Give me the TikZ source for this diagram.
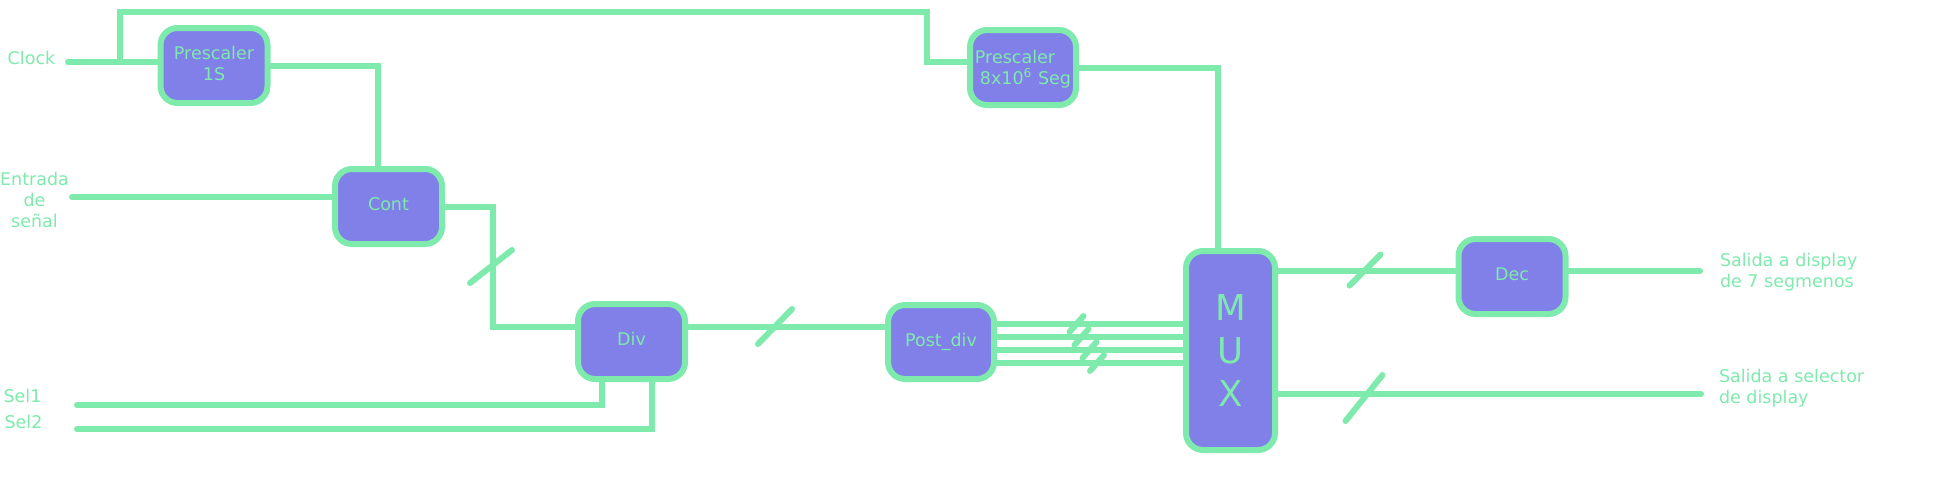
\documentclass[tikz,border=0pt]{standalone}
\usepackage{fontspec}
\setmainfont{DejaVu Sans}
\usetikzlibrary{calc}
\definecolor{wire}{RGB}{126,234,172}
\definecolor{blockfill}{RGB}{128,128,232}

\begin{document}
\begin{tikzpicture}[x=0.5pt,y=-0.5pt,line width=3pt,color=wire,line cap=round,
  block/.style={draw=wire,fill=blockfill,rounded corners=8.5pt,
    minimum width=53.5pt,minimum height=37.5pt,inner sep=0pt,text depth=2.5pt,
    text=wire,align=center,font=\fontsize{8.75}{10.5}\selectfont},
  lbl/.style={text=wire,inner sep=0pt,font=\fontsize{8.75}{10.5}\selectfont}]
  \newcommand{\busmark}[3]{\draw ($(#1)+(-#2,#3)$) -- ($(#1)+(#2,-#3)$);}
  \useasboundingbox (0,0) rectangle (1959,500);
  % blocks
  \node[block] (pre1) at (214,65.5) {Prescaler\\1S};
  \node[block] (cont) at (388.5,206.5) {Cont};
  \node[block] (div) at (631.5,341.5) {Div};
  \node[block,minimum width=53pt,minimum height=37pt] (post) at (941,342) {Post\_div};
  \node[block,minimum width=53pt,align=left,text depth=0pt] (pre2) at (1023,67.5) {Prescaler\\\hspace*{2.5pt}8x10\textsuperscript{6} Seg};
  \node[block,minimum width=44.5pt,minimum height=99.5pt,text depth=0pt,
    font=\fontsize{17.8}{21.5}\selectfont] (mux) at (1230.5,350.5) {M\\U\\X};
  \node[block] (dec) at (1512,276.5) {Dec};
  % texts
  \node[lbl] (clk) at (31.5,58) {Clock};
  \node[lbl,align=center] (sig) at (34.5,200) {Entrada\\de\\señal};
  \node[lbl] (sel1) at (22.5,396) {Sel1};
  \node[lbl] (sel2) at (23.5,422) {Sel2};
  \node[lbl,align=left,anchor=west] (out7) at (1717,272.5) {Salida a display\\de 7 segmenos};
  \node[lbl,align=left,anchor=west] (outsel) at (1716,388) {Salida a selector\\de display};
  % free ends and bends
  \coordinate (clkin) at (68,62);
  \coordinate (jn) at (120,62);
  \coordinate (topl) at (120,12);
  \coordinate (topr) at (927,12);
  \coordinate (sigin) at (72,197);
  \coordinate (bend) at (493,327);
  \coordinate (sel1in) at (77,405);
  \coordinate (sel2in) at (77,429);
  \coordinate (o7) at (1700,271);
  \coordinate (osel) at (1701,394);
  % wires
  \draw (clkin) -- (clkin -| pre1.west);
  \draw (jn) -- (topl) -- (topr) |- (pre2.west |- clkin);
  \draw (pre1.east) -| ($(cont.north)+(-10.5,0)$);
  \draw (sigin) -- (sigin -| cont.west);
  \draw (cont.east) -| (bend) -- (bend -| div.west);
  \draw (bend -| div.east) -- (bend -| post.west);
  \foreach \yy in {324,337,350,363}
    \draw (post.east |- 0,\yy) -- (mux.west |- 0,\yy);
  \draw (pre2.east) -| ($(mux.north)+(-12.5,0)$);
  \draw (mux.east |- 0,271) -- (dec.west |- 0,271);
  \draw (dec.east |- o7) -- (o7);
  \draw (mux.east |- osel) -- (osel);
  \draw (sel1in) -| ($(div.south)+(-29.5,0)$);
  \draw (sel2in) -| ($(div.south)+(20.5,0)$);
  % bus widths
  \coordinate (m1) at (491,266.5);
  \coordinate (m2) at (775,326.5);
  \coordinate (m3) at (1365,270);
  \coordinate (m4) at (1364,398);
  \busmark{m1}{21}{16.5}
  \busmark{m2}{17}{17.5}
  \busmark{m3}{15.5}{15.5}
  \busmark{m4}{18.5}{23}
  \foreach \xx/\yy [count=\i] in {1076.5/324,1081.5/337,1089.5/350,1097/363}{
    \coordinate (b\i) at (\xx,\yy);
    \busmark{b\i}{7}{8}
  }
\end{tikzpicture}
\end{document}
